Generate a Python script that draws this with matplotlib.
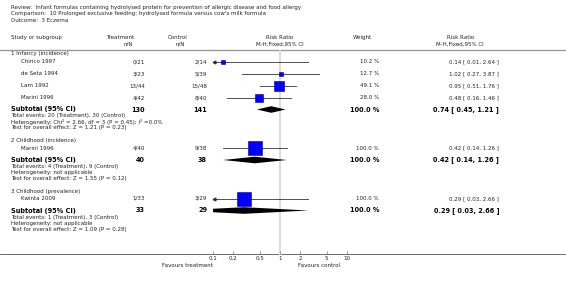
import matplotlib
matplotlib.use("Agg")
import matplotlib.pyplot as plt
import numpy as np

# 数据
review = "Review:  Infant formulas containing hydrolysed protein for prevention of allergic disease and food allergy"
comparison = "Comparison:  10 Prolonged exclusive feeding: hydrolysed formula versus cow's milk formula"
outcome = "Outcome:  3 Eczema"

group_names = ["1 Infancy (incidence)", "2 Childhood (incidence)", "3 Childhood (prevalence)"]
study_names = ["Chirico 1997", "de Seta 1994", "Lam 1992", "Marini 1996", "Marini 1996", "Kwinta 2009"]
study_group = [0, 0, 0, 0, 1, 2]
treat_nN = ["0/21", "3/23", "13/44", "4/42", "4/40", "1/33"]
ctrl_nN = ["2/14", "5/39", "15/48", "8/40", "9/38", "3/29"]
weights = [10.2, 12.7, 49.1, 28.0, 100.0, 100.0]
rr = [0.14, 1.02, 0.95, 0.48, 0.42, 0.29]
rr_lo = [0.01, 0.27, 0.51, 0.16, 0.14, 0.03]
rr_hi = [2.64, 3.87, 1.76, 1.46, 1.26, 2.66]

sub_treat = [130, 40, 33]
sub_ctrl = [141, 38, 29]
sub_rr = [0.74, 0.42, 0.29]
sub_lo = [0.45, 0.14, 0.03]
sub_hi = [1.21, 1.26, 2.66]
sub_events = ["Total events: 20 (Treatment), 30 (Control)",
              "Total events: 4 (Treatment), 9 (Control)",
              "Total events: 1 (Treatment), 3 (Control)"]
sub_het = ["Heterogeneity: Chi² = 2.66, df = 3 (P = 0.45); I² =0.0%",
           "Heterogeneity: not applicable",
           "Heterogeneity: not applicable"]
sub_z = ["Test for overall effect: Z = 1.21 (P = 0.23)",
         "Test for overall effect: Z = 1.55 (P = 0.12)",
         "Test for overall effect: Z = 1.09 (P = 0.28)"]

ticks = [0.1, 0.2, 0.5, 1, 2, 5, 10]
tick_labels = ["0.1", "0.2", "0.5", "1", "2", "5", "10"]

plt.rcParams["font.family"] = "DejaVu Sans"
fs = 4.0      # 小字
fsb = 4.7     # 粗体小计
tc = "#222222"

W, H = 566, 285
fig = plt.figure(figsize=(W / 100, H / 100), dpi=100)
ax = fig.add_axes([0, 0, 1, 1])
ax.set_xlim(0, W)
ax.set_ylim(H, 0)
ax.axis("off")

# 森林图区域（对数坐标）
x_lo, x_hi = 213.3, 346.7
fa = fig.add_axes([x_lo / W, 0, (x_hi - x_lo) / W, 1])
fa.set_xscale("log")
fa.set_xlim(0.1, 10)
fa.set_ylim(H, 0)
fa.patch.set_alpha(0)
for s in ["top", "left", "right"]:
    fa.spines[s].set_visible(False)
axis_y = 254.3
fa.spines["bottom"].set_position(("data", axis_y))
fa.spines["bottom"].set_visible(False)
fa.set_yticks([])
fa.set_xticks(ticks)
fa.set_xticklabels(tick_labels)
fa.xaxis.set_minor_locator(matplotlib.ticker.NullLocator())
fa.tick_params(axis="x", direction="in", length=2, width=0.6, color="#888888",
               labelsize=fs, labelcolor=tc, pad=1.5)

# 标题
ax.text(11, 8, review, fontsize=fs, color=tc, va="center")
ax.text(11, 14, comparison, fontsize=fs, color=tc, va="center")
ax.text(11, 20, outcome, fontsize=fs, color=tc, va="center")

# 表头
col_treat = 145
col_ctrl = 207
col_w = 379
col_rr = 499
ax.text(11, 37.5, "Study or subgroup", fontsize=fs, color=tc, va="center")
ax.text(120, 37.5, "Treatment", fontsize=fs, color=tc, va="center", ha="center")
ax.text(133, 44, "n/N", fontsize=fs, color=tc, va="center", ha="right")
ax.text(178, 37.5, "Control", fontsize=fs, color=tc, va="center", ha="center")
ax.text(185, 44, "n/N", fontsize=fs, color=tc, va="center", ha="right")
ax.text(280, 37.5, "Risk Ratio", fontsize=fs, color=tc, va="center", ha="center")
ax.text(280, 44, "M-H,Fixed,95% CI", fontsize=fs, color=tc, va="center", ha="center")
ax.text(362, 37.5, "Weight", fontsize=fs, color=tc, va="center", ha="center")
ax.text(461, 37.5, "Risk Ratio", fontsize=fs, color=tc, va="center", ha="center")
ax.text(460, 44, "M-H,Fixed,95% CI", fontsize=fs, color=tc, va="center", ha="center")
ax.plot([0, W], [49.5, 49.5], color="#999999", lw=1.0)

# 无效线 与 坐标轴线
fa.plot([1, 1], [50, axis_y], color="#dcdcdc", lw=1.5, zorder=0)
ax.plot([0, W], [axis_y, axis_y], color="#555555", lw=0.6)

ax.text(213, 265.5, "Favours treatment", fontsize=fs, color=tc, va="center", ha="right")
ax.text(298, 265.5, "Favours control", fontsize=fs, color=tc, va="center", ha="left")

# 行
y = 54
for g, gname in enumerate(group_names):
    ax.text(11, y, gname, fontsize=fs, color=tc, va="center")
    y += 7.5
    idx = [i for i in range(len(study_names)) if study_group[i] == g]
    for k, i in enumerate(idx):
        if k > 0:
            y += 12
        ax.text(21, y, study_names[i], fontsize=fs, color=tc, va="center")
        ax.text(col_treat, y, treat_nN[i], fontsize=fs, color=tc, va="center", ha="right")
        ax.text(col_ctrl, y, ctrl_nN[i], fontsize=fs, color=tc, va="center", ha="right")
        ax.text(col_w, y, f"{weights[i]:.1f} %", fontsize=fs, color=tc, va="center", ha="right")
        ax.text(col_rr, y, f"{rr[i]:.2f} [ {rr_lo[i]:.2f}, {rr_hi[i]:.2f} ]",
                fontsize=fs, color=tc, va="center", ha="right")
        lo_c = max(rr_lo[i], 0.1)
        hi_c = min(rr_hi[i], 10)
        fa.plot([lo_c, hi_c], [y, y], color="#333333", lw=0.6)
        if rr_lo[i] < 0.1:
            fa.plot([0.103], [y], marker="<", ms=2.0, color="#333333", clip_on=False)
        if rr_hi[i] > 10:
            fa.plot([9.7], [y], marker=">", ms=2.0, color="#333333", clip_on=False)
        side = 1.35 * np.sqrt(weights[i]) * 0.72
        fa.plot([rr[i]], [y], marker="s", ms=side, mfc="#0000ff", mec="#000080",
                mew=0.4, zorder=3)
    y += 12
    ax.text(11, y, "Subtotal (95% CI)", fontsize=fsb, color="black", va="center", fontweight="bold")
    ax.text(col_treat, y, str(sub_treat[g]), fontsize=fsb, color="black", va="center",
            ha="right", fontweight="bold")
    ax.text(col_ctrl, y, str(sub_ctrl[g]), fontsize=fsb, color="black", va="center",
            ha="right", fontweight="bold")
    ax.text(col_w, y, "100.0 %", fontsize=fsb, color="black", va="center", ha="right",
            fontweight="bold")
    ax.text(col_rr, y, f"{sub_rr[g]:.2f} [ {sub_lo[g]:.2f}, {sub_hi[g]:.2f} ]", fontsize=fsb,
            color="black", va="center", ha="right", fontweight="bold")
    fa.fill([sub_lo[g], sub_rr[g], sub_hi[g], sub_rr[g]], [y, y - 3.3, y, y + 3.3],
            color="black", lw=0)
    ax.text(11, y + 6.5, sub_events[g], fontsize=fs, color=tc, va="center")
    ax.text(11, y + 12.5, sub_het[g], fontsize=fs, color=tc, va="center")
    ax.text(11, y + 18.5, sub_z[g], fontsize=fs, color=tc, va="center")
    y += 18.5 + 12.5

fig.savefig("out.png", dpi=100)
